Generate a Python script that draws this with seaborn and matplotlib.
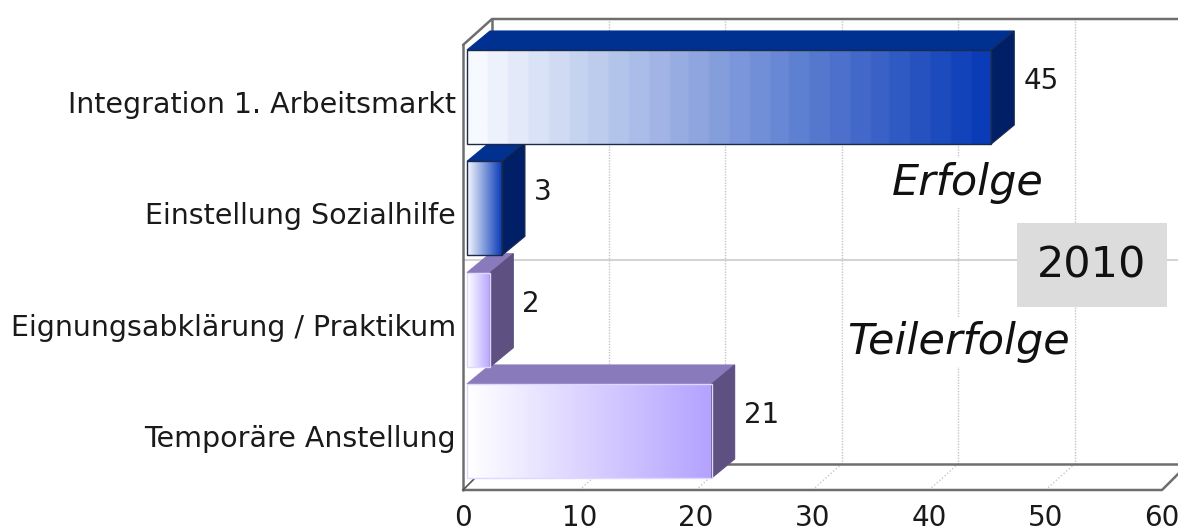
import numpy as np
import pandas as pd
import matplotlib.pyplot as plt
import matplotlib.transforms as mtrans
from matplotlib.colors import LinearSegmentedColormap
from matplotlib.patches import Polygon
import seaborn as sns

categorias = ['Integration 1. Arbeitsmarkt', 'Einstellung Sozialhilfe',
              'Eignungsabklärung / Praktikum', 'Temporäre Anstellung']
valores = [45, 3, 2, 21]
x_ticks = [0, 10, 20, 30, 40, 50, 60]

# cores: frente (inicio, fim), topo, lado, contorno
azul = ('#f6f9ff', '#0a3cb8', '#003090', '#001f66', '#1c2a4a')
roxo = ('#ffffff', '#b4a2ff', '#897bbb', '#5e5182', '#ded8ff')
cores = [azul, azul, roxo, roxo]

W, H = 1178, 527
sns.set_theme(style='white')
plt.rcParams['font.family'] = ['DejaVu Sans']

# area do grafico em pixels: parede frontal esquerda e chao
PX_X0, PX_X1, PX_Y_TOP, PX_Y_BOT = 463, 1162, 45, 490
PITCH = 111.33   # pixels entre categorias
PX_C0 = 97       # centro da primeira barra
ux = (PX_X1 - PX_X0) / 60

fig = plt.figure(figsize=(W / 100, H / 100), dpi=100)
ax = fig.add_axes([PX_X0 / W, 1 - PX_Y_BOT / H, (PX_X1 - PX_X0) / W, (PX_Y_BOT - PX_Y_TOP) / H])

df = pd.DataFrame({'categoria': categorias, 'valor': valores})
sns.barplot(data=df, x='valor', y='categoria', orient='h', width=94 / PITCH, color='white', ax=ax)

ylim = ((PX_Y_BOT - PX_C0) / PITCH, (PX_Y_TOP - PX_C0) / PITCH)


def dx(px):
    return px / ux


def dy(px):
    return px / PITCH


# paredes da caixa 3D
WALL_X, WALL_Y = dx(29), dy(26)
y_chao, y_topo = ylim
x_fim = dx(W - PX_X0)
cor_linha = '#6e6e6e'
linha = dict(color=cor_linha, lw=1.8, clip_on=False, zorder=3, solid_capstyle='round')
ax.plot([0, 0], [y_chao, y_topo], **linha)
ax.plot([0, WALL_X, x_fim], [y_topo, y_topo - WALL_Y, y_topo - WALL_Y], **linha)
ax.plot([WALL_X, WALL_X], [y_topo - WALL_Y, y_chao - WALL_Y], **linha)
ax.plot([WALL_X, x_fim], [y_chao - WALL_Y, y_chao - WALL_Y], **linha)
ax.plot([0, 60, 60 + dx(18)], [y_chao, y_chao, y_chao - dy(18)], **linha)
ax.plot([0, dx(12)], [y_chao, y_chao - dy(12)], color='#555555', lw=1.2, clip_on=False, zorder=3)

# grade
for t in x_ticks[1:]:
    ax.plot([t + WALL_X] * 2, [y_chao - WALL_Y, y_topo - WALL_Y], color='#c4c4c4', lw=1, ls=(0, (1, 1)),
            clip_on=False, zorder=1)
    ax.plot([t, t + WALL_X], [y_chao, y_chao - WALL_Y], color='#c8c8c8', lw=1, ls=(0, (1, 1.5)),
            clip_on=False, zorder=1)
ax.plot([0, x_fim], [1.465, 1.465], color='#cccccc', lw=1.2, clip_on=False, zorder=1)

# barras: gradiente na frente, topo e lado em paralelogramo
BAR_X, BAR_Y, SHIFT = dx(23), dy(19), dx(4)
for i, (p, v, c) in enumerate(zip(ax.patches, valores, cores)):
    z = 10 + (4 - i) * 3
    x0, y0, y1 = SHIFT, p.get_y(), p.get_y() + p.get_height()
    x1 = x0 + v
    # so a barra longa tem degraus visiveis no gradiente
    passos = 26 if v > 30 else 128
    cmap = LinearSegmentedColormap.from_list('g', [c[0], c[1]], N=passos)
    ax.imshow(np.linspace(0, 1, 256)[None, :], cmap=cmap, aspect='auto', extent=(x0, x1, y1, y0), zorder=z,
              interpolation='bilinear')
    ax.add_patch(Polygon([(x0, y0), (x1, y0), (x1 + BAR_X, y0 - BAR_Y), (x0 + BAR_X, y0 - BAR_Y)],
                         fc=c[2], ec=c[2], lw=0.8, clip_on=False, zorder=z))
    ax.add_patch(Polygon([(x1, y0), (x1 + BAR_X, y0 - BAR_Y), (x1 + BAR_X, y1 - BAR_Y), (x1, y1)],
                         fc=c[3], ec=c[4] if c is azul else c[3], lw=0.8, clip_on=False, zorder=z))
    p.set_x(x0)
    p.set_facecolor('none')
    p.set_edgecolor(c[4])
    p.set_linewidth(1.0)
    p.set_zorder(z + 1)
    ax.text(x1 + dx(32), i - dy(16), str(v), fontsize=20, color='#1a1a1a', ha='left', va='center', zorder=40)

ax.set_xlim(0, 60)
ax.set_ylim(*ylim)
ax.set_xlabel('')
ax.set_ylabel('')
ax.set_xticks(x_ticks)
ax.set_yticks(range(len(categorias)))
ax.set_yticklabels(categorias)
ax.tick_params(axis='x', length=0, pad=10, labelsize=20, labelcolor='#1a1a1a')
ax.tick_params(axis='y', length=0, pad=5, labelsize=20.5, labelcolor='#1a1a1a')
desce = mtrans.ScaledTranslation(0, -5 / 100, fig.dpi_scale_trans)
for lab in ax.get_yticklabels():
    lab.set_transform(lab.get_transform() + desce)
ax.patch.set_visible(False)
ax.grid(False)
for s in ax.spines.values():
    s.set_visible(False)

# anotacoes
ax.text(dx(968 - PX_X0), (183 - PX_C0) / PITCH, 'Erfolge', fontsize=31, style='italic', color='#111111',
        ha='center', va='center', zorder=30, bbox=dict(fc='white', ec='none', pad=3))
ax.text(dx(959 - PX_X0), (342 - PX_C0) / PITCH, 'Teilerfolge', fontsize=31, style='italic', color='#111111',
        ha='center', va='center', zorder=30, bbox=dict(fc='white', ec='none', pad=3))
ax.text(dx(1092 - PX_X0), (265 - PX_C0) / PITCH, '2010', fontsize=31, color='#111111',
        ha='center', va='center', zorder=31, bbox=dict(fc='#dcdcdc', ec='none', pad=15))

fig.savefig('out.png', dpi=100, facecolor='white')
